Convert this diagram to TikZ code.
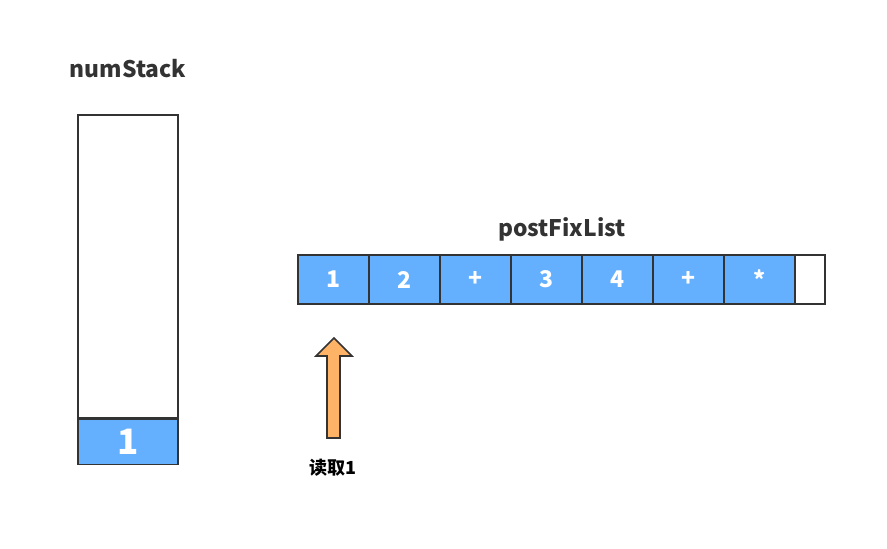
\documentclass[tikz,border=0pt]{standalone}
\usepackage{fontspec}
\setmainfont{Noto Sans CJK SC}
\usepackage{xcolor}
\usetikzlibrary{positioning}
\definecolor{cellblue}{HTML}{64B0FF}
\definecolor{arroworange}{HTML}{FFB366}
\definecolor{edgegray}{HTML}{333333}

\begin{document}
\begin{tikzpicture}[
  x=1pt, y=-1pt,
  cell/.style={draw=edgegray, line width=1.6pt, fill=cellblue, minimum width=71pt, minimum height=49pt, inner sep=0pt, text=white, font=\bfseries\fontsize{23}{23}\selectfont},
  emptycell/.style={cell, fill=white, minimum width=30pt},
  title/.style={text=edgegray, font=\bfseries\fontsize{22.8}{23}\selectfont},
  readarrow/.style={draw=edgegray, line width=1.6pt, fill=arroworange, line join=miter}
]
  \useasboundingbox (0,0) rectangle (887,549);

  % number stack
  \node[title] (stacktitle) at (128,69) {numStack};
  \node[draw=edgegray, line width=1.6pt, fill=white, minimum width=100pt, minimum height=303pt, inner sep=0pt] (stack) at (128,266.5) {};
  \node[cell, minimum width=100pt, minimum height=45pt, font=\bfseries\fontsize{35}{35}\selectfont, below=0pt of stack] (s1) {1};

  % postfix list
  \node[title] (listtitle) at (562,229) {postFixList};
  \foreach \i/\t in {1/1, 2/2, 3/+, 4/3, 5/4, 6/+, 7/*} {
    \node[cell] (c\i) at (333.5+71*\i-71,279.5) {\t};
  }
  \node[emptycell] (c8) at (810,279.5) {};

  % read pointer
  \draw[readarrow] (327,438) -- (327,356) -- (316,356) -- (334,338) -- (352,356) -- (340,356) -- (340,438) -- cycle;
  \node[text=black, font=\bfseries\fontsize{18}{18}\selectfont] (readlabel) at (333,468) {读取1};
\end{tikzpicture}
\end{document}
